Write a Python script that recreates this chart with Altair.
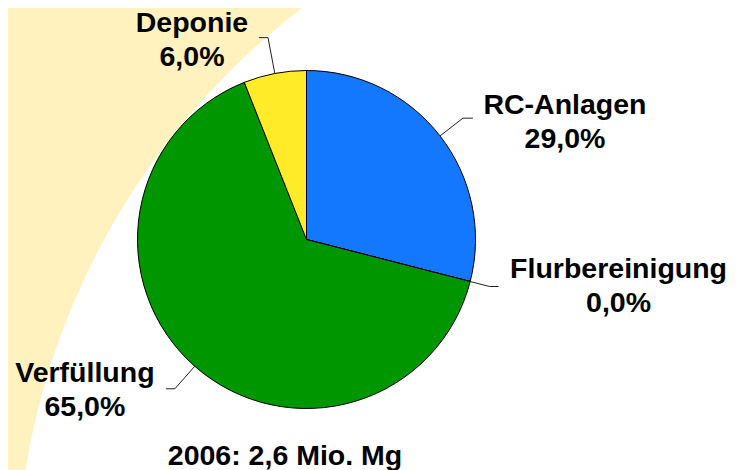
import math
import altair as alt
import pandas as pd

# ---- data ----
categories = ["RC-Anlagen", "Flurbereinigung", "Verfüllung", "Deponie"]
shares = [29.0, 0.0, 65.0, 6.0]
caption = "2006: 2,6 Mio. Mg"

# ---- style / layout ----
colors = ["#1478FF", "#FF8C00", "#009600", "#FFEB28"]
BEIGE = "#FFF2BE"
W, H = 720, 462
CX, CY, R = 298.5, 231.5, 169
BGX, BGY, BGR = 737, 579, 729
FONT = "Liberation Sans"
FS = 28.5
# per label: radial leader length, horizontal leader length, label dx, label dy (from leader end)
leader = {
    "RC-Anlagen": (29, 10, 92, -4),
    "Flurbereinigung": (20, 9, 120, -9),
    "Verfüllung": (30, -9, -81, -7),
    "Deponie": (36.5, -9, -67, -6),
}

total = sum(shares)
line_rows, label_rows = [], []
cum = 0.0
for cat, s in zip(categories, shares):
    mid = (cum + s / 2) / total * 2 * math.pi
    cum += s
    ux, uy = math.sin(mid), -math.cos(mid)
    rl, hl, ldx, ldy = leader[cat]
    ax, ay = CX + R * ux, CY + R * uy
    ex, ey = CX + (R + rl) * ux, CY + (R + rl) * uy
    fx, fy = ex + hl, ey
    for i, (px, py) in enumerate([(ax, ay), (ex, ey), (fx, fy)]):
        line_rows.append({"cat": cat, "step": i, "x": px, "y": py})
    label_rows.append({
        "cat": cat,
        "label": f"{cat}\n{s:.1f}%".replace(".", ","),
        "x": fx + ldx,
        "y": fy + ldy,
    })

pie_df = pd.DataFrame({"cat": categories, "share": shares, "order": list(range(len(categories)))})
lines_df = pd.DataFrame(line_rows)
labels_df = pd.DataFrame(label_rows)
cap_df = pd.DataFrame({"label": [caption], "x": [277], "y": [457]})

xs = alt.Scale(domain=[0, W], nice=False, zero=False)
ys = alt.Scale(domain=[0, H], nice=False, zero=False, reverse=True)

bg = alt.Chart(pd.DataFrame({"a": [0]})).mark_arc(
    color="white", theta=0, theta2=2 * math.pi
).encode(x=alt.value(BGX), y=alt.value(BGY), radius=alt.value(BGR))

pie = alt.Chart(pie_df).mark_arc(stroke="black", strokeWidth=1).encode(
    theta=alt.Theta("share:Q", stack=True),
    color=alt.Color("cat:N", scale=alt.Scale(domain=categories, range=colors), legend=None),
    order=alt.Order("order:Q"),
    x=alt.value(CX),
    y=alt.value(CY),
    radius=alt.value(R),
)

lines = alt.Chart(lines_df).mark_line(color="#222222", strokeWidth=1).encode(
    x=alt.X("x:Q", scale=xs, axis=None),
    y=alt.Y("y:Q", scale=ys, axis=None),
    detail="cat:N",
    order="step:Q",
)

labels = alt.Chart(labels_df).mark_text(
    font=FONT, fontWeight="bold", fontSize=FS, lineHeight=34,
    align="center", baseline="alphabetic", color="black", lineBreak="\n",
).encode(
    x=alt.X("x:Q", scale=xs, axis=None),
    y=alt.Y("y:Q", scale=ys, axis=None),
    text="label:N",
)

cap = alt.Chart(cap_df).mark_text(
    font=FONT, fontWeight="bold", fontSize=FS,
    align="center", baseline="alphabetic", color="black",
).encode(
    x=alt.X("x:Q", scale=xs, axis=None),
    y=alt.Y("y:Q", scale=ys, axis=None),
    text="label:N",
)

chart = alt.layer(bg, pie, lines, labels, cap).properties(
    width=W, height=H, background=BEIGE, padding=0,
    autosize=alt.AutoSizeParams(type="none"),
).configure_view(stroke=None)

chart.save("out.html", embed_options={"renderer": "svg", "actions": False})
